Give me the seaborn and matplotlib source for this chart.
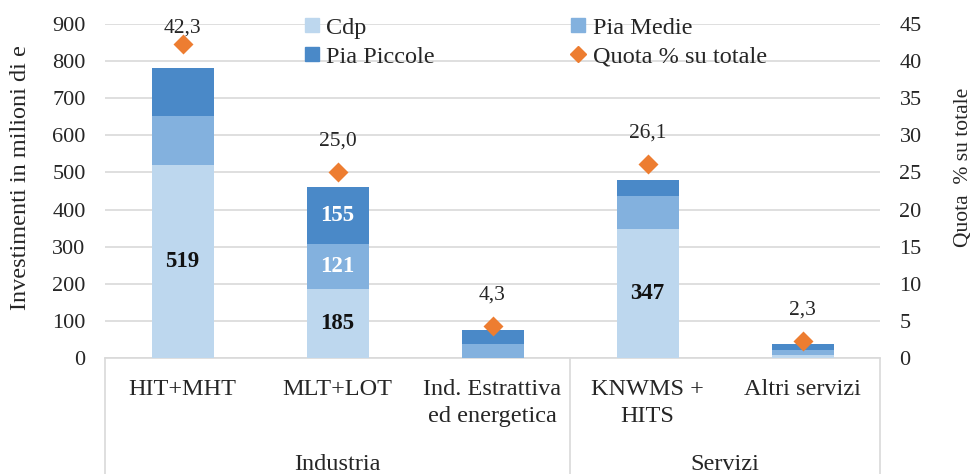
import numpy as np
import pandas as pd
import matplotlib
matplotlib.use("Agg")
import matplotlib.pyplot as plt
from matplotlib.lines import Line2D
from matplotlib.transforms import blended_transform_factory
import seaborn as sns

# --- Data ---
categories = ["HIT+MHT", "MLT+LOT", "Ind. Estrattiva\ned energetica", "KNWMS +\nHITS", "Altri servizi"]
groups = ["Industria", "Servizi"]
group_sizes = [3, 2]
cdp = [519, 185, 0, 347, 7]
pia_medie = [134, 121, 38, 90, 14]
pia_piccole = [128, 155, 37, 43, 17]
quota = [42.3, 25.0, 4.3, 26.1, 2.3]
quota_labels = ["42,3", "25,0", "4,3", "26,1", "2,3"]
# which segment values are printed inside the bars
show_cdp = [True, True, False, True, False]
show_pia = [False, True, False, False, False]

c_cdp = "#BDD7EE"
c_medie = "#83B1DE"
c_piccole = "#4A89C8"
c_orange = "#ED7D31"
txt = "#262626"
grid = "#D9D9D9"

df = pd.DataFrame({"cat": categories, "cdp": cdp, "medie": pia_medie, "piccole": pia_piccole})
df["lvl1"] = df["cdp"]
df["lvl2"] = df["cdp"] + df["medie"]
df["lvl3"] = df["lvl2"] + df["piccole"]

sns.set_style("white")
plt.rcParams["font.family"] = ["Liberation Serif", "DejaVu Serif"]
plt.rcParams["font.size"] = 16

fig = plt.figure(figsize=(9.75, 4.74), dpi=100)
ax = fig.add_axes([0.1077, 0.2447, 0.7949, 0.7046])

# --- stacked bars: draw cumulative heights back to front ---
bar_kw = dict(width=0.4, saturation=1, linewidth=0, ax=ax)
sns.barplot(data=df, x="cat", y="lvl3", color=c_piccole, zorder=2, **bar_kw)
sns.barplot(data=df, x="cat", y="lvl2", color=c_medie, zorder=3, **bar_kw)
sns.barplot(data=df, x="cat", y="lvl1", color=c_cdp, zorder=4, **bar_kw)

ax.set_ylim(0, 900)
ax.set_xlim(-0.5, len(categories) - 0.5)
ax.set_yticks(range(0, 901, 100))
ax.yaxis.grid(True, color=grid, lw=1.2, zorder=0)
ax.set_axisbelow(True)
for s in ["top", "right", "left"]:
    ax.spines[s].set_visible(False)
ax.spines["bottom"].set_color(grid)
ax.spines["bottom"].set_linewidth(1.2)
ax.tick_params(axis="y", length=0, pad=14, labelsize=16, labelcolor=txt)
ax.set_xticks([])
ax.set_xlabel("")
ax.set_ylabel("Investimenti in milioni di e", fontsize=17.5, color=txt)
ax.yaxis.set_label_coords(-0.096, 0.54)

# --- values inside the bars ---
for i in range(len(categories)):
    if show_cdp[i]:
        ax.text(i, cdp[i] / 2, f"{cdp[i]}", ha="center", va="center",
                fontsize=16.5, fontweight="bold", color="#111111", zorder=6)
    if show_pia[i]:
        ax.text(i, df["lvl1"][i] + pia_medie[i] / 2, f"{pia_medie[i]}", ha="center", va="center",
                fontsize=16.5, fontweight="bold", color="white", zorder=6)
        ax.text(i, df["lvl2"][i] + pia_piccole[i] / 2, f"{pia_piccole[i]}", ha="center", va="center",
                fontsize=16.5, fontweight="bold", color="white", zorder=6)

# --- two-level category axis ---
tr = blended_transform_factory(ax.transData, ax.transAxes)
for i, c in enumerate(categories):
    ax.text(i, -0.062, c, transform=tr, ha="center", va="top", fontsize=17.5,
            color=txt, linespacing=1.38)
edges = np.cumsum([0] + group_sizes) - 0.5
for e in edges:
    ax.plot([e, e], [0, -0.6], transform=tr, color=grid, lw=1.2, clip_on=False)
for g, a, b in zip(groups, edges[:-1], edges[1:]):
    ax.text((a + b) / 2, -0.318, g, transform=tr, ha="center", va="center",
            fontsize=17.5, color=txt)

# --- quota on secondary axis ---
ax2 = ax.twinx()
sns.pointplot(x=categories, y=quota, ax=ax2, color=c_orange, markers="D",
              linestyle="none", markersize=8.5, zorder=7)
ax2.set_ylim(0, 45)
ax2.set_xlim(-0.5, len(categories) - 0.5)
ax2.set_yticks(range(0, 46, 5))
for s in ax2.spines.values():
    s.set_visible(False)
ax2.tick_params(axis="y", length=0, pad=14, labelsize=16, labelcolor=txt)
ax2.set_xticks([])
ax2.set_xlabel("")
ax2.set_ylabel("Quota  % su totale", fontsize=15.5, color=txt, rotation=90)
ax2.yaxis.set_label_coords(1.096, 0.57)
for i, (q, lab) in enumerate(zip(quota, quota_labels)):
    ax2.text(i, min(q + 4.2, 44.4), lab, ha="center", va="center", fontsize=15.5, color=txt)

# --- legend ---
handles = [
    Line2D([], [], marker="s", ls="none", color=c_cdp, markersize=10),
    Line2D([], [], marker="s", ls="none", color=c_piccole, markersize=10),
    Line2D([], [], marker="s", ls="none", color=c_medie, markersize=10),
    Line2D([], [], marker="D", ls="none", color=c_orange, markersize=8.5),
]
labels = ["Cdp", "Pia Piccole", "Pia Medie", "Quota % su totale"]
ax2.legend(handles, labels, ncol=2, frameon=False, loc="upper left",
           bbox_to_anchor=(0.229, 1.088), fontsize=17.5, handlelength=0.6,
           handletextpad=0.3, columnspacing=5.6, labelspacing=0.3)

fig.savefig("out.png", dpi=100)
